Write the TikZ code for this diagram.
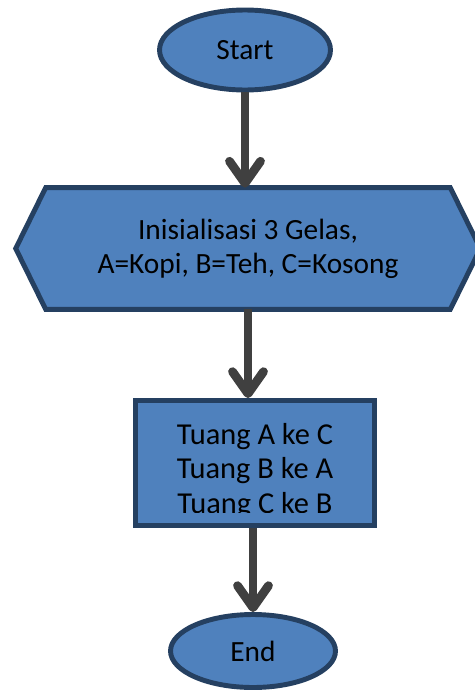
\documentclass[tikz,border=0pt]{standalone}
\usepackage{fontspec}
\setmainfont{Carlito}
\usetikzlibrary{arrows.meta,calc,backgrounds,shapes.geometric}

\definecolor{boxfill}{RGB}{79,129,189}
\definecolor{boxline}{RGB}{37,64,97}
\definecolor{arrowgray}{RGB}{64,64,64}

\tikzset{
  flowtext/.style={font=\fontsize{16.7}{19.3}\selectfont, align=center},
  bigtext/.style={font=\fontsize{17.3}{19.6}\selectfont, align=center},
  terminal/.style={flowtext, ellipse, draw=boxline, fill=boxfill, line width=2.8pt},
  procbox/.style={rectangle, draw=boxline, fill=boxfill, line width=2.8pt},
  hexline/.style={draw=boxline, fill=boxfill, line width=2.8pt, line join=miter},
  flowarrow/.style={draw=arrowgray, line width=5pt,
    -{Straight Barb[length=0.44cm, width=0.62cm, line cap=round, line join=round]}}
}

\begin{document}
\begin{tikzpicture}[x=0.02cm, y=-0.02cm]
\useasboundingbox (0,0) rectangle (475,693);

\node[terminal, minimum width=3.42cm, minimum height=1.6cm] (start) at (245,50) {Start};

\node[flowtext, minimum width=9.28cm, minimum height=2.42cm, inner sep=0pt] (init) at (248,248.5)
  {Inisialisasi 3 Gelas,\\A=Kopi, B=Teh, C=Kosong};
\begin{scope}[on background layer]
\draw[hexline] (init.west) -- ($(init.north west)+(30,0)$) -- ($(init.north east)+(-30,0)$)
  -- (init.east) -- ($(init.south east)+(-30,0)$) -- ($(init.south west)+(30,0)$) -- cycle;
\end{scope}

\node[procbox, minimum width=4.78cm, minimum height=2.5cm] (proses) at (255,463) {};
\begin{scope}
\clip (137,402) rectangle (373,512);
\node[bigtext] (prosestext) at (255,471) {Tuang A ke C\\Tuang B ke A\\Tuang C ke B};
\end{scope}

\node[terminal, minimum width=3.3cm, minimum height=1.46cm] (stop) at (253,651) {End};

% connectors
\draw[flowarrow] (start.south) -- (start.south |- init.north);
\draw[flowarrow] (init.south) -- (init.south |- proses.north);
\draw[flowarrow] (stop.north |- proses.south) -- (stop.north);
\end{tikzpicture}
\end{document}
